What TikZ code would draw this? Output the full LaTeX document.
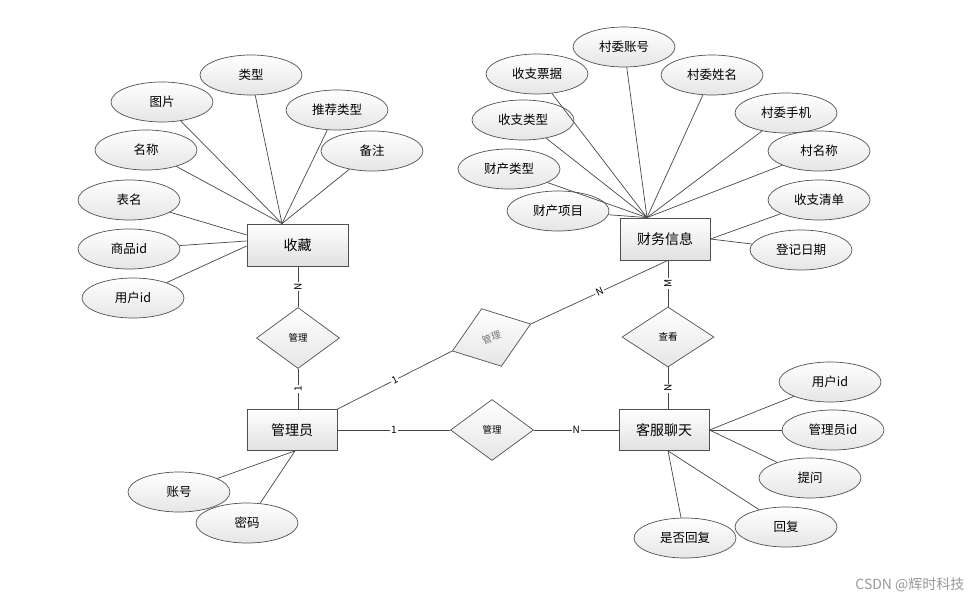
\documentclass[tikz,border=0pt]{standalone}
\usepackage{fontspec}
\setmainfont{Noto Sans CJK SC}
\usepackage{tikz}
\usetikzlibrary{calc,
  positioning,
  shapes,
  shapes.geometric
}
\definecolor{edgegray}{RGB}{80,80,80}
\definecolor{linegray}{RGB}{70,70,70}
\newcommand{\attrfont}{\fontsize{12.5}{14}\selectfont}
\newcommand{\entfont}{\fontsize{14}{16}\selectfont}
\newcommand{\relfont}{\fontsize{9.5}{11}\selectfont}
\newcommand{\cardfont}{\fontsize{10}{11}\selectfont}
\tikzstyle{attr} = [ellipse, draw=edgegray, line width=0.7pt,
  top color=white, bottom color=black!10, minimum width=102pt,
  minimum height=40pt, inner sep=0pt, font=\attrfont]
\tikzstyle{entity} = [rectangle, draw=edgegray, line width=0.8pt,
  top color=white, bottom color=black!12, minimum width=90pt,
  minimum height=41pt, inner sep=0pt, font=\entfont]
\tikzstyle{rel} = [diamond, draw=edgegray, line width=0.7pt,
  top color=white, bottom color=black!10, minimum width=83pt,
  minimum height=61pt, inner sep=0pt, font=\relfont]
\tikzstyle{link} = [draw=linegray, line width=0.7pt]
\tikzstyle{card} = [fill=white, inner sep=1pt, font=\cardfont]

\begin{document}
\begin{tikzpicture}[x=1pt, y=-1pt]
  \useasboundingbox (0, 0) rectangle (974, 604);

  % 收藏
  \node[entity, minimum width=101pt, minimum height=42pt] (sc) at (297.5, 245) {收藏};
  \coordinate (sctop) at ([xshift=-15.5pt]sc.north);
  \node[attr] (sc-img) at (162, 102) {图片};
  \node[attr] (sc-type) at (251, 75) {类型};
  \node[attr] (sc-rec) at (337, 110) {推荐类型};
  \node[attr] (sc-name) at (146, 150) {名称};
  \node[attr] (sc-note) at (372, 151) {备注};
  \node[attr] (sc-tab) at (129, 200) {表名};
  \node[attr] (sc-gid) at (129, 249) {商品id};
  \node[attr] (sc-uid) at (133, 298) {用户id};
  \foreach \a in {sc-img, sc-type, sc-rec, sc-name, sc-note} {
    \draw[link] (\a) -- (sctop);
  }
  \draw[link] (sc-tab) -- ([yshift=10pt]sc.west);
  \draw[link] (sc-gid) -- ([yshift=4pt]sc.west);
  \draw[link] (sc-uid) -- ([yshift=-1pt]sc.west);

  % 财务信息
  \node[entity, minimum height=42pt] (cw) at (665, 239) {财务信息};
  \coordinate (cwtop) at ([xshift=-18pt]cw.north);
  \node[attr] (cw-acc) at (624, 47) {村委账号};
  \node[attr] (cw-bill) at (537, 74) {收支票据};
  \node[attr] (cw-name) at (712, 75) {村委姓名};
  \node[attr] (cw-type) at (523, 120) {收支类型};
  \node[attr] (cw-tel) at (786, 113) {村委手机};
  \node[attr] (cw-ptype) at (509, 169) {财产类型};
  \node[attr] (cw-vil) at (819, 151) {村名称};
  \node[attr] (cw-item) at (558, 211) {财产项目};
  \node[attr] (cw-list) at (819, 200) {收支清单};
  \node[attr] (cw-date) at (801, 250) {登记日期};
  \foreach \a in {cw-acc, cw-bill, cw-name, cw-type, cw-tel, cw-ptype, cw-vil, cw-item} {
    \draw[link] (\a) -- (cwtop);
  }
  \draw[link] (cw-list) -- (cw.east);
  \draw[link] (cw-date) -- (cw.east);

  % 管理员
  \node[entity] (gly) at (292, 430) {管理员};
  \node[attr] (gly-acc) at (179, 492) {账号};
  \node[attr] (gly-pwd) at (247, 523) {密码};
  \draw[link] (gly-acc) -- ([xshift=3pt]gly.south);
  \draw[link] (gly-pwd) -- ([xshift=3pt]gly.south);

  % 客服聊天
  \node[entity] (kf) at (664, 430) {客服聊天};
  \node[attr] (kf-uid) at (830, 382) {用户id};
  \node[attr] (kf-aid) at (833, 430) {管理员id};
  \node[attr] (kf-ask) at (810, 478) {提问};
  \node[attr] (kf-ans) at (786, 527) {回复};
  \node[attr] (kf-done) at (685, 538) {是否回复};
  \foreach \a in {kf-uid, kf-aid, kf-ask} {
    \draw[link] (\a) -- (kf.east);
  }

  % relations
  \node[rel] (rel-sc) at (298, 338) {管理};
  \node[rel, rotate=19, text=black!55] (rel-cw) at (491.5, 337.5) {管理};
  \node[rel] (rel-kf) at (492, 430) {管理};
  \node[rel, minimum width=92pt, minimum height=60pt] (rel-ck) at (668, 337) {查看};
  \coordinate (cwbot) at (rel-ck.north |- cw.south);
  \coordinate (kfbot) at (rel-ck.south |- kf.south);
  \draw[link] (kf-done) -- (kfbot);
  \draw[link] (kf-ans) -- (kfbot);

  \draw[link] (sc.south -| rel-sc.north) -- node[card, rotate=90] {N} (rel-sc.north);
  \draw[link] (rel-sc.south) -- node[card, rotate=90] {1} (rel-sc.south |- gly.north);
  \draw[link] (gly.north east) -- node[card, sloped] {1} (rel-cw.west);
  \draw[link] (rel-cw.east) -- node[card, sloped] {N} (cwbot);
  \draw[link] (gly.east) -- node[card] {1} (rel-kf.west);
  \draw[link] (rel-kf.east) -- node[card] {N} (kf.west);
  \draw[link] (cwbot) -- node[card, rotate=90] {M} (rel-ck.north);
  \draw[link] (rel-ck.south) -- node[card, rotate=90] {N} (kfbot |- kf.north);

  % watermark
  \node[text=black!40, font=\fontsize{14}{16}\selectfont, anchor=east] (mark) at (968, 585) {CSDN @辉时科技};
\end{tikzpicture}
\end{document}
